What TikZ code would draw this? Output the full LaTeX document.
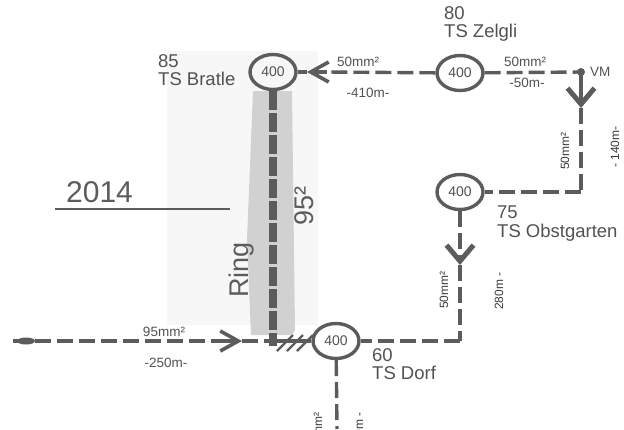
\documentclass[tikz,border=0pt]{standalone}
\usepackage{fontspec}
\setmainfont{Liberation Sans}
\usepackage{tikz}
\usetikzlibrary{arrows.meta}
\usetikzlibrary{shapes.geometric}
\definecolor{kabelgrau}{gray}{0.36}
\definecolor{textgrau}{gray}{0.32}
\tikzstyle{station}=[draw=kabelgrau,line width=3.4pt,ellipse,inner sep=0pt,minimum width=46pt,minimum height=35pt,font=\fontsize{14}{14}\selectfont,text=textgrau]
\tikzstyle{kabel}=[draw=kabelgrau,line width=3.4pt,dash pattern=on 16pt off 6pt]
\tikzstyle{solidkabel}=[draw=kabelgrau,line width=3.4pt]
\tikzstyle{pfeilbreit}=[-{Straight Barb[length=16pt,width=27pt,line width=5pt]}]
\tikzstyle{pfeilschmal}=[-{Straight Barb[length=18pt,width=20pt,line width=3.6pt]}]
\tikzstyle{texto}=[inner sep=0pt,text=textgrau,font=\fontsize{18.5}{18.5}\selectfont,align=left]
\tikzstyle{klein}=[inner sep=0pt,text=textgrau,font=\fontsize{13.5}{13.5}\selectfont]
\tikzstyle{seitlich}=[inner sep=0pt,rotate=90,text=textgrau!70!black,font=\fontsize{12}{12}\selectfont]
\tikzstyle{hand}=[inner sep=0pt,text=kabelgrau,font=\fontsize{30}{30}\selectfont]

\begin{document}
\begin{tikzpicture}[x=1pt,y=-1pt]
    \useasboundingbox (0,0) rectangle (624,429);
    \clip (0,0) rectangle (624,429);
    % hintergrund
    \fill [gray!6] (167,51) rectangle (318,325);
    \fill [gray!36] (253,91) -- (292,91) -- (295,330) -- (292,335) -- (251,335) -- (247,240) -- cycle;
    % stationen
    \node [station] (bratle) at (273,72) {400};
    \node [station] (zelgli) at (460,73) {400};
    \node [station] (obstgarten) at (460,192) {400};
    \node [station] (dorf) at (336,341) {400};
    \coordinate (vm) at (581,72);
    \coordinate (eckeobst) at (581,192);
    \coordinate (eckedorf) at (460,341);
    \coordinate (start) at (13,341);
    \coordinate (ringfuss) at (273,341);
    \coordinate (ringende) at (273,346);
    \coordinate (unten) at (337,429);
    \coordinate (spitzebratle) at (307,72);
    \coordinate (armbratle) at (327,72);
    \coordinate (spitzevm) at (581,108);
    \coordinate (spitzeobst) at (460,265);
    \coordinate (spitzestart) at (242,341);
    \coordinate (armstart) at (218,341);
    % leitungen
    \draw [kabel] (zelgli) -- (armbratle);
    \draw [solidkabel,pfeilschmal] (armbratle) -- (spitzebratle);
    \draw [solidkabel] (spitzebratle) -- (bratle);
    \draw [kabel] (zelgli) -- (vm);
    \draw [solidkabel,pfeilbreit] (vm) -- (spitzevm);
    \draw [kabel] (spitzevm) -- (eckeobst);
    \draw [kabel] (eckeobst) -- (obstgarten);
    \draw [kabel,pfeilbreit] (obstgarten) -- (spitzeobst);
    \draw [kabel] (spitzeobst) -- (eckedorf);
    \draw [kabel] (eckedorf) -- (dorf);
    \draw [kabel] (start) -- (armstart);
    \draw [solidkabel,pfeilschmal] (armstart) -- (spitzestart);
    \draw [kabel] (spitzestart) -- (ringfuss);
    \draw [solidkabel] (ringfuss) -- (dorf);
    \draw [kabel] (dorf) -- (unten);
    \draw [draw=kabelgrau,line width=8pt,dash pattern=on 19pt off 3pt] (bratle) -- (ringende);
    \fill [kabelgrau] (vm) circle (4pt);
    \fill [kabelgrau] (26,341) ellipse (9pt and 3.5pt);
    \foreach \x in {277,287,297}
        \draw [kabelgrau,line width=2.4pt] (\x,351) -- (\x+16,335);
    % beschriftung
    \node [texto,anchor=south west] (nrbratle) at (158,86) {85\\TS Bratle};
    \node [texto,anchor=south west] (nrzelgli) at (444,42) {80\\TS Zelgli};
    \node [texto,anchor=north west] (nrobst) at (497,206) {75\\TS Obstgarten};
    \node [texto,anchor=north west] (nrdorf) at (372,348) {60\\TS Dorf};
    \node [klein,anchor=west] (vmtext) at (590,72) {VM};
    \node [klein] (qbratle) at (358,62) {50mm²};
    \node [klein] (lbratle) at (368,93) {-410m-};
    \node [klein] (qzelgli) at (525,62) {50mm²};
    \node [klein] (lzelgli) at (527,83) {-50m-};
    \node [seitlich] (qvm) at (565,151) {50mm²};
    \node [seitlich] (lvm) at (615,147) {- 140m-};
    \node [seitlich] (qobst) at (444,290) {50mm²};
    \node [seitlich] (lobst) at (499,291) {280m -};
    \node [klein] (qstart) at (164,332) {95mm²};
    \node [klein] (lstart) at (166,363) {-250m-};
    \node [seitlich,anchor=east] (qunten) at (318,412) {50mm²};
    \node [seitlich,anchor=east] (lunten) at (359,412) {- 280m -};
    % handschrift
    \node [hand,anchor=west] (jahr) at (66,192) {2014};
    \draw [kabelgrau,line width=1.3pt] (55,209) -- (230,209);
    \node [hand,rotate=90,font=\fontsize{27}{27}\selectfont] (ring) at (242,270) {Ring};
    \node [hand,rotate=90,font=\fontsize{27}{27}\selectfont] (ringquer) at (304,206) {95²};
\end{tikzpicture}
\end{document}
